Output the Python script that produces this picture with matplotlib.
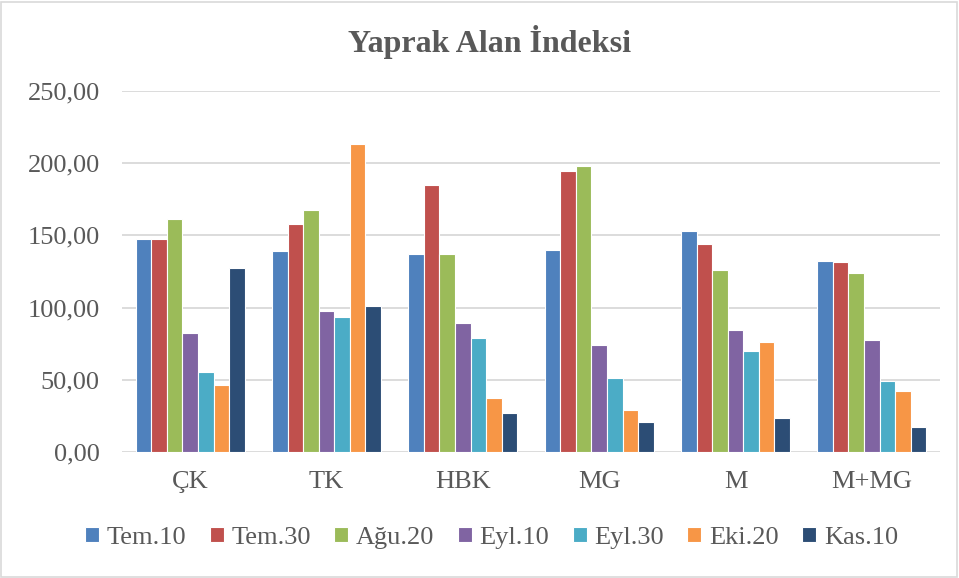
import matplotlib.pyplot as plt
import numpy as np
from matplotlib.patches import Rectangle

plt.rcParams['font.family'] = ['Liberation Serif', 'DejaVu Serif']

categories = ['ÇK', 'TK', 'HBK', 'MG', 'M', 'M+MG']
series_names = ['Tem.10', 'Tem.30', 'Ağu.20', 'Eyl.10', 'Eyl.30', 'Eki.20', 'Kas.10']

tem10 = [147.3, 139.0, 137.4, 139.9, 153.3, 132.3]
tem30 = [147.7, 157.6, 185.1, 194.7, 143.8, 131.4]
agu20 = [161.1, 167.5, 137.1, 198.2, 126.1, 123.8]
eyl10 = [82.3, 97.7, 89.2, 74.0, 84.8, 77.9]
eyl30 = [55.1, 93.8, 78.8, 51.4, 70.1, 48.9]
eki20 = [46.6, 213.2, 37.1, 28.8, 76.1, 42.0]
kas10 = [127.7, 101.0, 27.2, 20.5, 23.3, 17.3]

yticks = [0, 50, 100, 150, 200, 250]
ytick_labels = ['0,00', '50,00', '100,00', '150,00', '200,00', '250,00']

colors = ['#4F81BD', '#C0504D', '#9BBB59', '#8064A2', '#4BACC6', '#F79646', '#2C4D75']
series = [tem10, tem30, agu20, eyl10, eyl30, eki20, kas10]

fig = plt.figure(figsize=(9.59, 5.78), dpi=100)
ax = fig.add_axes([122/959, 1 - 452/578, 818/959, 361/578])

x = np.arange(len(categories))
w = 0.8 / 7
for i, vals in enumerate(series):
    ax.bar(x - 0.4 + w * (i + 0.5), vals, width=w, color=colors[i],
           edgecolor='white', linewidth=0.8, label=series_names[i], zorder=3)

ax.set_xlim(-0.5, len(categories) - 0.5)
ax.set_ylim(0, 250)
ax.set_yticks(yticks)
ax.set_yticklabels(ytick_labels)
ax.set_xticks(x)
ax.set_xticklabels(categories)
ax.tick_params(length=0, labelsize=19, colors='#595959')
ax.tick_params(axis='y', pad=16)
ax.tick_params(axis='x', pad=14)
ax.grid(axis='y', color='#D9D9D9', linewidth=1.3, zorder=0)
for s in ax.spines.values():
    s.set_visible(False)

fig.text(0.511, 1 - 42/578, 'Yaprak Alan İndeksi', ha='center', va='center',
         fontsize=23, fontweight='bold', color='#595959')

leg = fig.legend(loc='center', bbox_to_anchor=(0.5125, 1 - 538/578), ncol=7,
                 frameon=False, fontsize=19, handlelength=0.53, handleheight=0.53,
                 handletextpad=0.3, columnspacing=0.88, labelcolor='#595959')

fig.patches.append(Rectangle((1/959, 1/578), 956/959, 575/578, transform=fig.transFigure,
                             fill=False, edgecolor='#D9D9D9', linewidth=1.2))

fig.savefig('out.png', dpi=100)
